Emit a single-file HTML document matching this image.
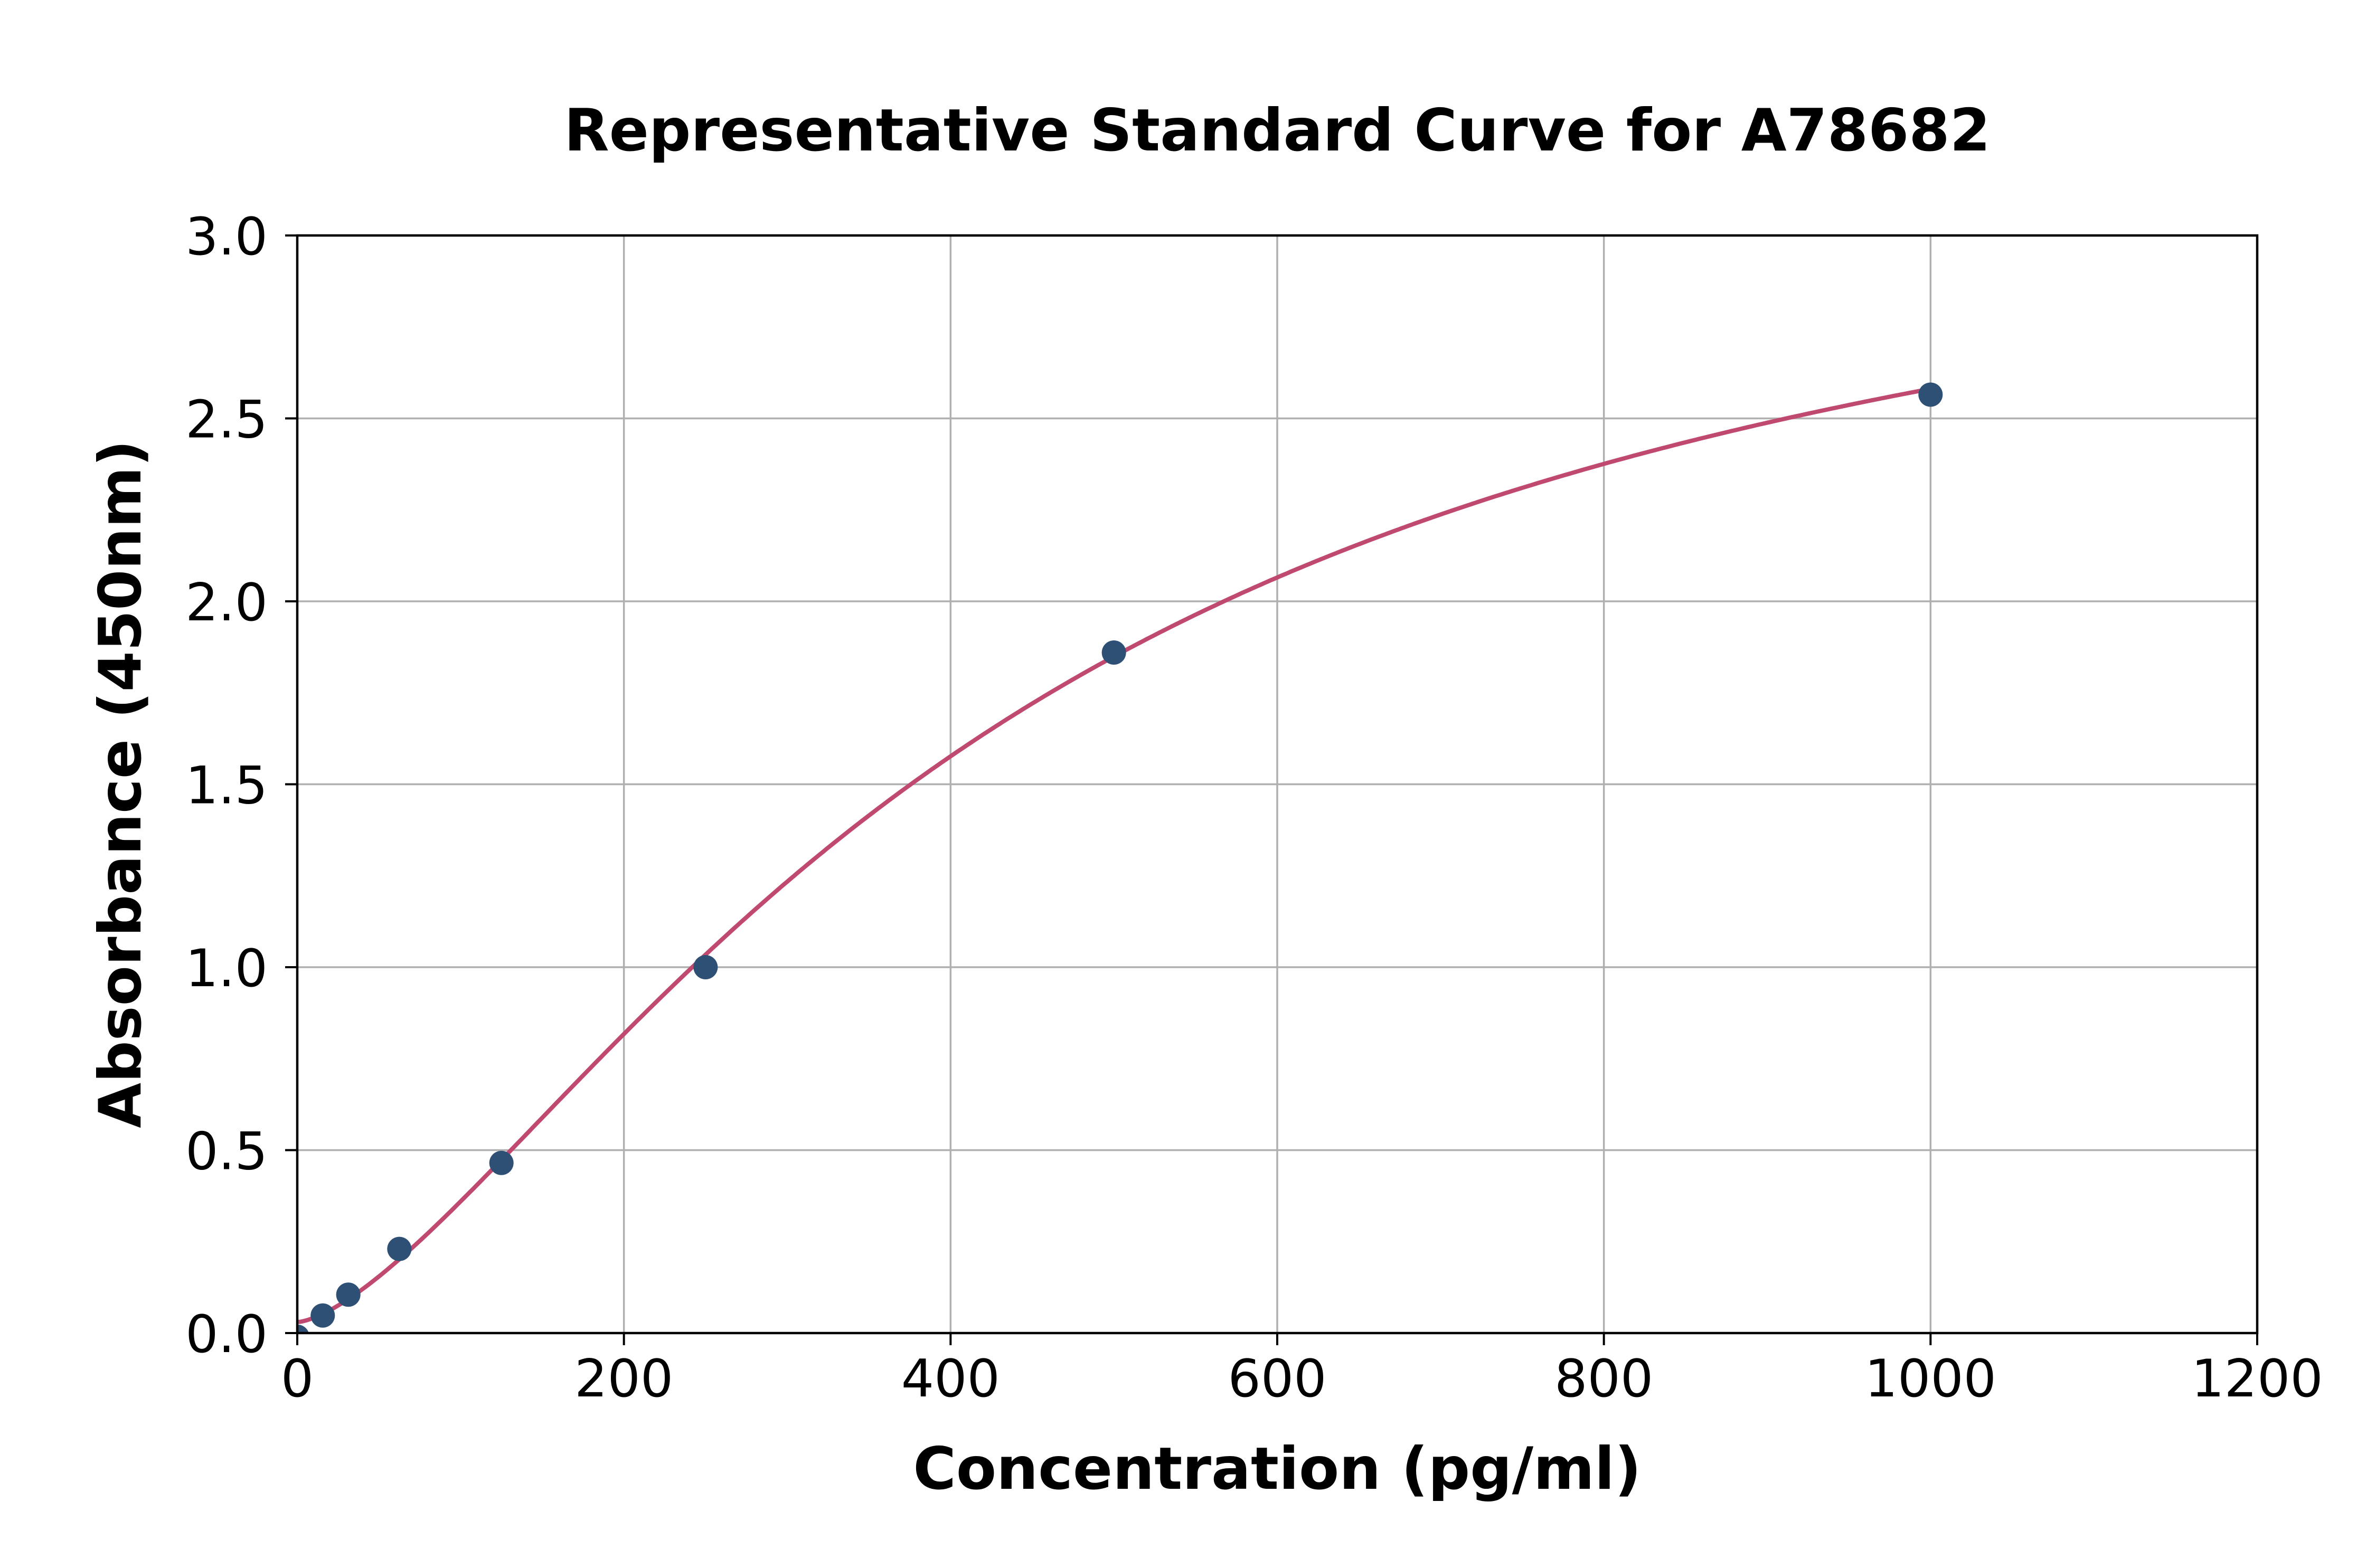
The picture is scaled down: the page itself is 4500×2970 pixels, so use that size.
<!DOCTYPE html>
<html><head><meta charset="utf-8"><style>
html,body{margin:0;padding:0;background:#fff;}
svg{display:block;}
text{font-family:"DejaVu Sans","Liberation Sans",sans-serif;fill:#000;}
</style></head><body>
<svg id="s" width="4500" height="2970" viewBox="0 0 4500 2970" xmlns="http://www.w3.org/2000/svg">
<defs><clipPath id="c"><rect x="563" y="446" width="3712" height="2079"/></clipPath></defs>
<rect width="4500" height="2970" fill="#fff"/>
<g id="grid" stroke="#b0b0b0" stroke-width="3.5"></g>
<g clip-path="url(#c)">
<path id="curve" fill="none" stroke="#c0496f" stroke-width="8"/>
<g id="dots" fill="#2e5075"></g>
</g>
<g id="ticks" stroke="#000" stroke-width="4"></g>
<rect x="563" y="446" width="3712" height="2079" fill="none" stroke="#000" stroke-width="4.5"/>
<g id="labels" font-size="98"></g>
<text x="2419" y="285" font-size="111" font-weight="bold" text-anchor="middle">Representative Standard Curve for A78682</text>
<text x="2419" y="2820" font-size="111" font-weight="bold" text-anchor="middle">Concentration (pg/ml)</text>
<text transform="translate(266,1485) rotate(-90)" font-size="111" font-weight="bold" text-anchor="middle">Absorbance (450nm)</text>
</svg>
<script>
var NS="http://www.w3.org/2000/svg";
function px(x){return 563+x*3712/1200;}
function py(y){return 2525-y*693;}
function el(t,a,p,txt){var e=document.createElementNS(NS,t);for(var k in a)e.setAttribute(k,a[k]);if(txt!==undefined)e.textContent=txt;document.getElementById(p).appendChild(e);}
for(var i=0;i<=6;i++){var x=px(i*200);
 el("line",{x1:x,y1:446,x2:x,y2:2525},"grid");
 el("line",{x1:x,y1:2525,x2:x,y2:2548},"ticks");
 el("text",{x:x,y:2645,"text-anchor":"middle"},"labels",String(i*200));}
for(var j=0;j<=6;j++){var v=j*0.5,y=py(v);
 el("line",{x1:563,y1:y,x2:4275,y2:y},"grid");
 el("line",{x1:540,y1:y,x2:563,y2:y},"ticks");
 el("text",{x:507,y:y+36,"text-anchor":"end"},"labels",v.toFixed(1));}
var a=0.03,d=3.3,c=430,b=1.5,dstr="";
for(var x=0;x<=1000;x+=2){var f=Math.pow(x/c,b),yv=d-(d-a)/(1+f);dstr+=(x?"L":"M")+px(x).toFixed(1)+","+py(yv).toFixed(1);}
document.getElementById("curve").setAttribute("d",dstr);
var pts=[[0,-0.01],[15.6,0.048],[31.25,0.105],[62.5,0.23],[125,0.465],[250,1.0],[500,1.86],[1000,2.565]];
pts.forEach(function(p){el("circle",{cx:px(p[0]),cy:py(p[1]),r:23},"dots");});
</script>
</body></html>
